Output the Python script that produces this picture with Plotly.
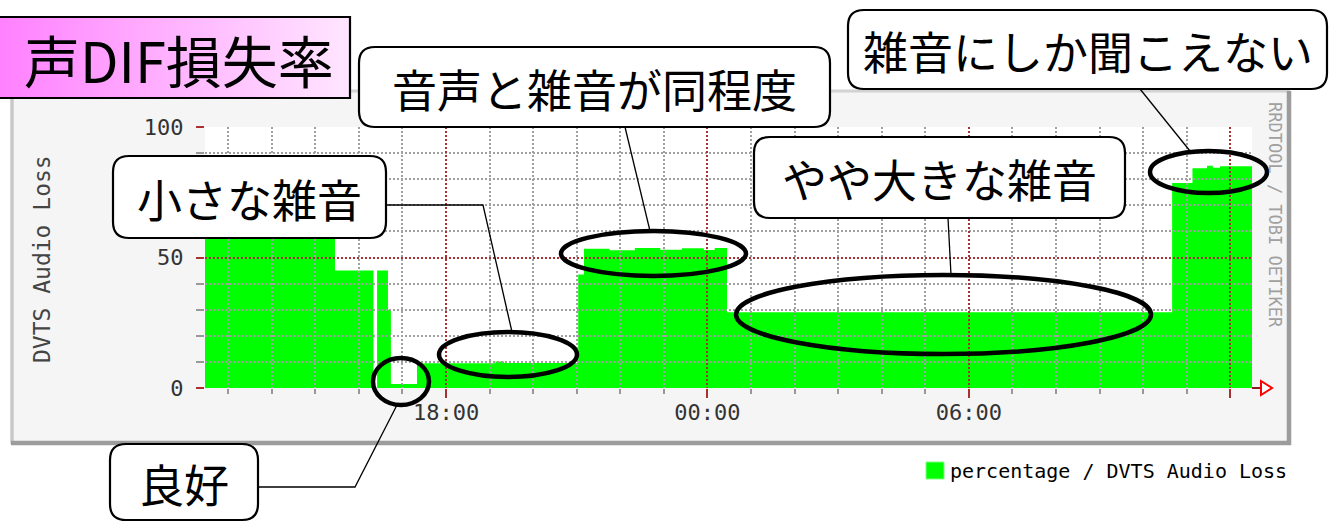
import plotly.graph_objects as go

W, H = 1334, 522

# ---------------- data ----------------
loss_times = [
    "2006-01-10 12:27", "2006-01-10 15:27", "2006-01-10 16:20", "2006-01-10 16:25",
    "2006-01-10 16:40", "2006-01-10 16:44", "2006-01-10 17:20", "2006-01-10 19:08",
    "2006-01-10 19:20", "2006-01-10 21:02", "2006-01-10 21:10", "2006-01-10 21:45",
    "2006-01-10 22:20", "2006-01-10 22:55", "2006-01-10 23:25", "2006-01-10 23:55",
    "2006-01-11 00:10", "2006-01-11 00:27", "2006-01-11 10:40", "2006-01-11 11:08",
    "2006-01-11 11:28", "2006-01-11 11:36", "2006-01-11 11:46", "2006-01-11 12:31",
]
loss_values = [
    66, 45, 0, 45,
    30, 1.5, 9.5, 10.2,
    9.6, 43.5, 53.4, 52.8,
    53.6, 53.0, 53.5, 52.9,
    53.6, 29.0, 78.5, 84.2,
    85.2, 84.4, 85.0, 85.0,
]
x_range = ["2006-01-10 12:28", "2006-01-11 12:30"]
x_major_ticks = ["2006-01-10 18:00", "2006-01-11 00:00", "2006-01-11 06:00", "2006-01-11 12:00"]
x_major_labels = ["18:00", "00:00", "06:00", ""]
y_ticks = [0, 50, 100]
y_labels = ["0", "50", "100"]

title_text = "声DIF損失率"
y_title = "DVTS Audio Loss"
legend_text = "percentage / DVTS Audio Loss"
watermark = "RRDTOOL / TOBI OETIKER"
callouts = ["小さな雑音", "音声と雑音が同程度", "やや大きな雑音", "雑音にしか聞こえない", "良好"]

# ---------------- layout geometry (pixels) ----------------
PL, PR, PT, PB = 205, 1252, 127, 388


def pxx(x):
    return x / W


def pxy(y):
    return 1 - y / H


xdom = [pxx(PL), pxx(PR)]
ydom = [pxy(PB), pxy(PT)]

GREEN = "#00FF00"
MAJ = "#A83232"
MIN = "#A0A0A0"
MONO = "DejaVu Sans Mono"
JP = "Noto Sans CJK JP"
DASH = "2px,2px"

fig = go.Figure()

# data area
fig.add_trace(go.Scatter(
    x=loss_times, y=loss_values, mode="lines", line=dict(shape="hv", width=0, color=GREEN),
    fill="tozeroy", fillcolor=GREEN, name=legend_text, showlegend=False,
    xaxis="x", yaxis="y", hoverinfo="skip",
))

# title box with gradient (full-figure pixel axes)
fig.add_trace(go.Scatter(
    x=[-10, 350, 350, -10, -10], y=[17, 17, 98, 98, 17], mode="lines",
    line=dict(color="black", width=2.2), fill="toself",
    fillgradient=dict(type="horizontal", colorscale=[[0, "#FF7EFF"], [1, "#FFE6FF"]]),
    showlegend=False, xaxis="x2", yaxis="y2", hoverinfo="skip",
))

# empty trace so that the grid overlay subplot exists
fig.add_trace(go.Scatter(x=[None], y=[None], mode="markers", showlegend=False,
                         xaxis="x3", yaxis="y3", hoverinfo="skip"))

fig.update_layout(
    width=W, height=H,
    margin=dict(l=0, r=0, t=0, b=0, autoexpand=False),
    paper_bgcolor="white", plot_bgcolor="rgba(0,0,0,0)",
    showlegend=False,
    xaxis=dict(domain=xdom, type="date", range=x_range, visible=False, anchor="y"),
    yaxis=dict(domain=ydom, range=[0, 100], visible=False, anchor="x"),
    xaxis2=dict(domain=[0, 1], range=[0, W], visible=False, anchor="y2"),
    yaxis2=dict(domain=[0, 1], range=[H, 0], visible=False, anchor="x2"),
    xaxis3=dict(
        domain=xdom, type="date", range=x_range, anchor="y3",
        tickmode="array", tickvals=x_major_ticks, ticktext=x_major_labels,
        showgrid=True, gridcolor=MAJ, griddash=DASH, gridwidth=2,
        ticks="outside", ticklen=9, tickwidth=2, tickcolor=MAJ,
        ticklabelstandoff=-4,
        tickfont=dict(family=MONO, size=22, color="#333"),
        minor=dict(tick0="2006-01-10 00:00", dtick=3600000, showgrid=True,
                   gridcolor=MIN, griddash=DASH, gridwidth=1.8,
                   ticks="outside", ticklen=5, tickwidth=1.5, tickcolor="#999"),
        showline=False, zeroline=False,
    ),
    yaxis3=dict(
        domain=ydom, range=[0, 100], anchor="x3",
        tickmode="array", tickvals=y_ticks, ticktext=y_labels,
        showgrid=True, gridcolor=MAJ, griddash=DASH, gridwidth=2,
        ticks="outside", ticklen=8, tickwidth=2, tickcolor=MAJ,
        ticklabelstandoff=8,
        tickfont=dict(family=MONO, size=22, color="#333"),
        minor=dict(dtick=10, showgrid=True, gridcolor=MIN, griddash=DASH,
                   gridwidth=1.8, ticks="outside", ticklen=8, tickwidth=1.5, tickcolor="#999"),
        showline=False, zeroline=False,
    ),
)

shapes = []
# RRD canvas panel (below everything)
shapes.append(dict(type="rect", xref="paper", yref="paper", layer="below",
                   x0=pxx(11), x1=pxx(1290), y0=pxy(444), y1=pxy(91),
                   fillcolor="#F5F5F5", line=dict(width=0)))
for (x0, y0, x1, y1, c, w) in [
    (11, 91, 1290, 91, "#D2D2D2", 3), (12, 91, 12, 444, "#C8C8C8", 3.5),
    (1289, 91, 1289, 445, "#9C9C9C", 4.5), (11, 443, 1291, 443, "#9C9C9C", 4.5),
]:
    shapes.append(dict(type="line", xref="paper", yref="paper", layer="below",
                       x0=pxx(x0), x1=pxx(x1), y0=pxy(y0), y1=pxy(y1),
                       line=dict(color=c, width=w)))
shapes.append(dict(type="rect", xref="paper", yref="paper", layer="below",
                   x0=pxx(PL), x1=pxx(PR), y0=pxy(PB), y1=pxy(PT),
                   fillcolor="white", line=dict(width=0)))

# axis arrow on the right end of the time axis
shapes.append(dict(type="line", xref="x2", yref="y2", x0=PR, x1=1263, y0=PB, y1=PB,
                   line=dict(color="#8A1E1E", width=2)))
shapes.append(dict(type="path", xref="x2", yref="y2",
                   path="M 1261 381 L 1272 388 L 1261 395 Z",
                   fillcolor="white", line=dict(color="red", width=2)))


def rrect(x0, y0, x1, y1, r=16):
    return (f"M {x0+r} {y0} L {x1-r} {y0} Q {x1} {y0} {x1} {y0+r} "
            f"L {x1} {y1-r} Q {x1} {y1} {x1-r} {y1} L {x0+r} {y1} "
            f"Q {x0} {y1} {x0} {y1-r} L {x0} {y0+r} Q {x0} {y0} {x0+r} {y0} Z")


# leader lines
leaders = [
    "M 386 205 L 483 205 L 512 332",
    "M 625 127 L 650 231",
    "M 948 218 L 951 275",
    "M 1140 89 L 1190 151",
    "M 258 487 L 355 487 L 397 405",
]
for p in leaders:
    shapes.append(dict(type="path", xref="x2", yref="y2", path=p,
                       line=dict(color="black", width=1.3)))

# ellipses
ellipses = [
    (439, 332, 577, 377),
    (561, 231, 746, 276),
    (736, 275, 1151, 354),
    (1150, 151, 1267, 193),
    (373, 358, 429, 405),
]
for (x0, y0, x1, y1) in ellipses:
    shapes.append(dict(type="circle", xref="x2", yref="y2", x0=x0, x1=x1, y0=y0, y1=y1,
                       line=dict(color="black", width=4.5)))

# callout boxes
boxes = [
    (113, 156, 386, 238),
    (359, 47, 830, 127),
    (754, 137, 1125, 218),
    (848, 10, 1327, 89),
    (110, 444, 258, 520),
]
for (x0, y0, x1, y1) in boxes:
    shapes.append(dict(type="path", xref="x2", yref="y2", path=rrect(x0, y0, x1, y1),
                       fillcolor="white", line=dict(color="black", width=2.2)))

# legend swatch
shapes.append(dict(type="rect", xref="x2", yref="y2", x0=926, x1=944, y0=462, y1=479,
                   fillcolor=GREEN, line=dict(color="#80FF80", width=1)))

annotations = []
for (x0, y0, x1, y1), txt in zip(boxes, callouts):
    annotations.append(dict(xref="x2", yref="y2", x=(x0 + x1) / 2, y=(y0 + y1) / 2 + 1,
                            text=txt, showarrow=False, xanchor="center", yanchor="middle",
                            font=dict(family=JP, size=45, color="black")))

annotations.append(dict(xref="x2", yref="y2", x=336, y=58, text=title_text, showarrow=False,
                        xanchor="right", yanchor="middle",
                        font=dict(family=JP, size=56, color="black")))
annotations.append(dict(xref="x2", yref="y2", x=42, y=259, text=y_title, showarrow=False,
                        textangle=-90, xanchor="center", yanchor="middle",
                        font=dict(family=MONO, size=23, color="#444")))
annotations.append(dict(xref="x2", yref="y2", x=1275, y=215, text=watermark, showarrow=False,
                        textangle=90, xanchor="center", yanchor="middle",
                        font=dict(family=MONO, size=17, color="#A0A0A0")))
annotations.append(dict(xref="x2", yref="y2", x=948, y=471, text=legend_text, showarrow=False,
                        xanchor="left", yanchor="middle",
                        font=dict(family=MONO, size=20, color="black")))

fig.update_layout(shapes=shapes, annotations=annotations)

fig.write_html("out.html", config={"displayModeBar": False},
               post_script="document.body.style.margin='0';")
